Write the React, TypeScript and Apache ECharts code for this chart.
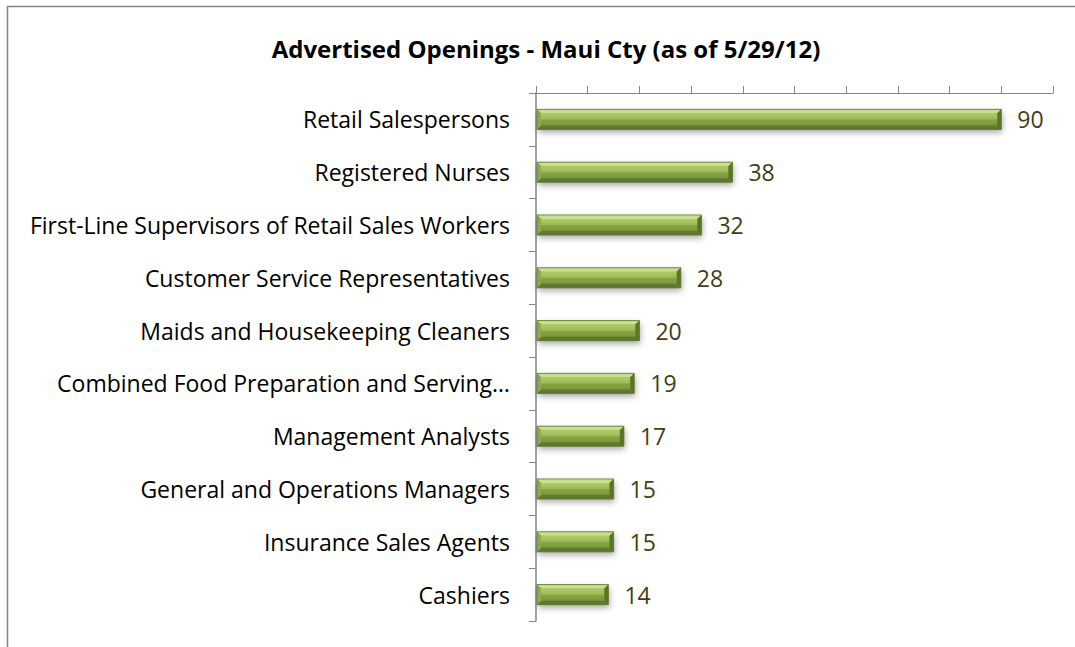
import React, { useEffect, useRef } from "react";
import * as echarts from "echarts";

const categories = [
  "Retail Salespersons",
  "Registered Nurses",
  "First-Line Supervisors of Retail Sales Workers",
  "Customer Service Representatives",
  "Maids and Housekeeping Cleaners",
  "Combined Food Preparation and Serving…",
  "Management Analysts",
  "General and Operations Managers",
  "Insurance Sales Agents",
  "Cashiers",
];
const values = [90, 38, 32, 28, 20, 19, 17, 15, 15, 14];
const titleText = "Advertised Openings - Maui Cty (as of 5/29/12)";

const FONT = "'Open Sans', 'Noto Sans', sans-serif";

export default function App() {
  const ref = useRef<HTMLDivElement>(null);
  useEffect(() => {
    const chart = echarts.init(ref.current!, null, { renderer: "svg" });
    const axisColor = "#868686";
    chart.setOption({
      animation: false,
      backgroundColor: "#ffffff",
      title: {
        text: titleText,
        left: 541,
        top: 31,
        textAlign: "center",
        textStyle: { fontFamily: FONT, fontSize: 24, fontWeight: "bold", color: "#000" },
      },
      graphic: [
        {
          type: "rect",
          shape: { x: 7.5, y: 6.5, width: 1200, height: 800 },
          style: { fill: "none", stroke: "#858585", lineWidth: 1.5 },
          silent: true,
        },
      ],
      grid: { left: 536, top: 93, width: 517, height: 528, containLabel: false },
      xAxis: {
        type: "value",
        position: "top",
        min: 0,
        max: 100,
        interval: 10,
        axisLine: { show: true, lineStyle: { color: axisColor, width: 1 } },
        axisTick: { show: true, length: 7, lineStyle: { color: axisColor } },
        axisLabel: { show: false },
        splitLine: { show: false },
      },
      yAxis: {
        type: "category",
        inverse: true,
        data: categories,
        axisLine: { show: true, lineStyle: { color: axisColor, width: 1.5 } },
        axisTick: { show: true, length: 7, lineStyle: { color: axisColor } },
        axisLabel: { fontFamily: FONT, fontSize: 23, color: "#000", margin: 26 },
      },
      series: [
        {
          type: "custom",
          encode: { x: 0, y: 1 },
          data: values.map((v, i) => [v, i]),
          renderItem: (params: any, api: any) => {
            const v = api.value(0);
            const idx = api.value(1);
            const s = api.coord([0, idx]);
            const e = api.coord([v, idx]);
            const band = api.size([0, 1])[1];
            const h = band * 0.38;
            const x0 = s[0] + 1;
            const x1 = e[0];
            const y0 = s[1] - h / 2;
            const y1 = s[1] + h / 2;
            const b = 4;
            return {
              type: "group",
              children: [
                {
                  type: "rect",
                  shape: { x: x0, y: y0, width: x1 - x0, height: y1 - y0 },
                  style: {
                    fill: "#7f9c40",
                    shadowBlur: 6,
                    shadowOffsetY: 3,
                    shadowOffsetX: 1,
                    shadowColor: "rgba(0,0,0,0.35)",
                  },
                },
                {
                  type: "rect",
                  shape: { x: x0 + b, y: y0 + b, width: x1 - x0 - 2 * b, height: y1 - y0 - 2 * b },
                  style: {
                    fill: new echarts.graphic.LinearGradient(0, 0, 0, 1, [
                      { offset: 0, color: "#aecb68" },
                      { offset: 0.45, color: "#9ebd55" },
                      { offset: 0.55, color: "#86a445" },
                      { offset: 1, color: "#7a963c" },
                    ]),
                  },
                },
                {
                  type: "polygon",
                  shape: { points: [[x0, y0], [x1, y0], [x1 - b, y0 + b], [x0 + b, y0 + b]] },
                  style: { fill: "#c8df90" },
                },
                {
                  type: "polygon",
                  shape: { points: [[x0, y1], [x1, y1], [x1 - b, y1 - b], [x0 + b, y1 - b]] },
                  style: { fill: "#5e7830" },
                },
                {
                  type: "polygon",
                  shape: { points: [[x0, y0], [x0 + b, y0 + b], [x0 + b, y1 - b], [x0, y1]] },
                  style: { fill: "#8daa4c" },
                },
                {
                  type: "polygon",
                  shape: { points: [[x1, y0], [x1, y1], [x1 - b, y1 - b], [x1 - b, y0 + b]] },
                  style: { fill: "#5a7428" },
                },
                {
                  type: "rect",
                  shape: { x: x0, y: y0, width: x1 - x0, height: y1 - y0 },
                  style: { fill: "none", stroke: "#5d7630", lineWidth: 0.8 },
                },
                {
                  type: "text",
                  x: x1 + 16,
                  y: s[1],
                  style: {
                    text: String(v),
                    fill: "#3f3f12",
                    fontFamily: FONT,
                    fontSize: 23,
                    verticalAlign: "middle",
                    align: "left",
                  },
                },
              ],
            };
          },
        },
      ],
    });
    return () => chart.dispose();
  }, []);
  return (
    <div
      ref={ref}
      style={{ position: "absolute", left: 0, top: 0, width: 1075, height: 647 }}
    />
  );
}
